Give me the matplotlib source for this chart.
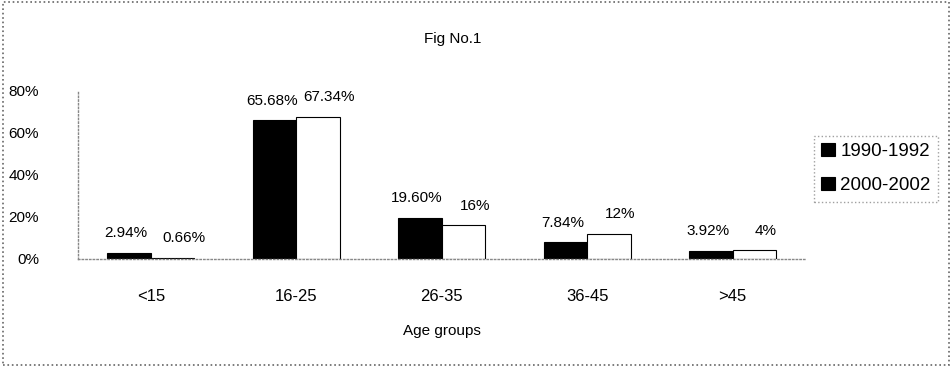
import matplotlib.pyplot as plt
import numpy as np

plt.rcParams['font.family'] = ['Liberation Sans', 'DejaVu Sans']

age_groups = ["<15", "16-25", "26-35", "36-45", ">45"]
period_1 = [2.94, 65.68, 19.60, 7.84, 3.92]
period_2 = [0.66, 67.34, 16.0, 12.0, 4.0]
labels_1 = ["2.94%", "65.68%", "19.60%", "7.84%", "3.92%"]
labels_2 = ["0.66%", "67.34%", "16%", "12%", "4%"]
series_names = ["1990-1992", "2000-2002"]


def main():
    fig = plt.figure(figsize=(9.52, 3.72), dpi=100)
    ax = fig.add_axes([0.082, 0.304, 0.764, 0.454])

    x = np.arange(len(age_groups))
    w = 0.3
    b1 = ax.bar(x - w / 2, period_1, w, color="black", edgecolor="black", linewidth=0.8)
    b2 = ax.bar(x + w / 2, period_2, w, color="white", edgecolor="black", linewidth=0.8)

    # value labels above bars
    for bars, labs, dx in ((b1, labels_1, -2), (b2, labels_2, 8)):
        for rect, lab in zip(bars, labs):
            ax.annotate(lab, (rect.get_x() + rect.get_width() / 2, rect.get_height()),
                        xytext=(dx, 9), textcoords="offset points",
                        ha="center", va="bottom", fontsize=11)

    ax.set_xlim(-0.5, len(age_groups) - 0.5)
    ax.set_ylim(0, 80)
    ax.set_yticks([0, 20, 40, 60, 80])
    ax.set_yticklabels(["0%", "20%", "40%", "60%", "80%"], fontsize=11)
    ax.tick_params(axis="y", length=0, pad=28)
    ax.set_xticks(x)
    ax.set_xticklabels(age_groups, fontsize=12)
    ax.tick_params(axis="x", length=0, pad=22)
    ax.set_xlabel("Age groups", fontsize=11, labelpad=14)

    for s in ("top", "right"):
        ax.spines[s].set_visible(False)
    for s in ("left", "bottom"):
        ax.spines[s].set_color("#888888")
        ax.spines[s].set_linestyle(":")
        ax.spines[s].set_linewidth(1.0)

    fig.text(0.475, 0.895, "Fig No.1", ha="center", va="center", fontsize=11)

    leg = fig.legend([b1, b1], series_names, loc="upper left",
                     bbox_to_anchor=(0.855, 0.635), fontsize=13.5, frameon=True,
                     handlelength=0.7, handleheight=0.7, handletextpad=0.3,
                     labelspacing=0.9, borderpad=0.4, borderaxespad=0.0,
                     fancybox=False)
    leg.get_frame().set_edgecolor("#888888")
    leg.get_frame().set_linestyle(":")

    # dotted border around the whole chart
    border = plt.Rectangle((0.003, 0.02), 0.994, 0.975, transform=fig.transFigure,
                           fill=False, edgecolor="#666666", linestyle=":", linewidth=1.2)
    fig.patches.append(border)

    fig.savefig("out.png", dpi=100)


if __name__ == "__main__":
    main()
